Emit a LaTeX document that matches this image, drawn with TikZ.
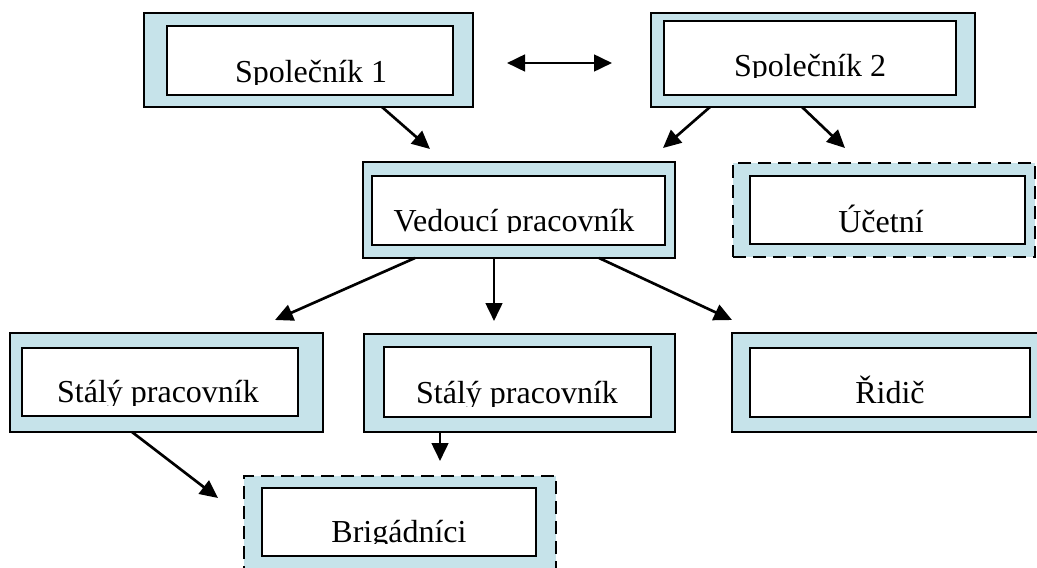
\documentclass[tikz,border=0pt]{standalone}
\usepackage{fontspec}
\setmainfont{Liberation Serif}
\usetikzlibrary{arrows.meta}
\definecolor{boxblue}{RGB}{198,227,234}
\tikzset{
 outerbox/.style={draw=black, fill=boxblue, line width=2.1pt, inner sep=0pt, outer sep=0pt, rectangle},
 dashbox/.style={outerbox, dash pattern=on 10pt off 5pt},
 innerbox/.style={draw=black, fill=white, line width=2pt, inner sep=0pt, outer sep=0pt, rectangle},
 lbl/.style={anchor=base, inner sep=0pt, font=\fontsize{24}{28}\selectfont},
 arr/.style={line width=2pt, -{Triangle[length=13.5pt,width=12.5pt]}},
 darr/.style={line width=2pt, {Triangle[length=13.5pt,width=12.5pt]}-{Triangle[length=13.5pt,width=12.5pt]}},
}
\newcommand\mybox[6]{\node[#1, minimum width={(#5-#3)*0.75pt}, minimum height={(#6-#4)*0.75pt}] (#2) at ({(#3+#5)/2},{(#4+#6)/2}) {};}
\newcommand\mylabel[5]{\begin{scope}\clip (0,0) rectangle (1037,#3); \node[lbl] (#5) at (#1,#2) {#4};\end{scope}}
\begin{document}
\begin{tikzpicture}[x=0.75pt,y=-0.75pt]
\useasboundingbox (0,0) rectangle (1037,567);
\clip (0,0) rectangle (1037,567);
% Spolecnik 1
\mybox{outerbox}{s1}{144}{13}{473}{107}
\mybox{innerbox}{s1i}{167}{26}{453}{95}
\mylabel{311}{82}{84}{Společník 1}{s1t}
% Spolecnik 2
\mybox{outerbox}{s2}{651}{13}{975}{107}
\mybox{innerbox}{s2i}{664}{21}{956}{95}
\mylabel{810}{76}{77.5}{Společník 2}{s2t}
% Vedouci
\mybox{outerbox}{v}{363}{162}{675}{258}
\mybox{innerbox}{vi}{372}{176}{665}{245}
\mylabel{514}{231}{232.5}{Vedoucí pracovník}{vt}
% Ucetni
\mybox{dashbox}{u}{733}{163}{1035}{257}
\mybox{innerbox}{ui}{750}{176}{1025}{244}
\mylabel{881}{232}{240}{Účetní}{ut}
% Staly 1
\mybox{outerbox}{st1}{10}{333}{323}{432}
\mybox{innerbox}{st1i}{22}{348}{298}{416}
\mylabel{158}{402}{405}{Stálý pracovník}{st1t}
% Staly 2
\mybox{outerbox}{st2}{364}{334}{675}{432}
\mybox{innerbox}{st2i}{384}{347}{651}{417}
\mylabel{517}{403}{406}{Stálý pracovník}{st2t}
% Ridic
\mybox{outerbox}{r}{732}{333}{1045}{432}
\mybox{innerbox}{ri}{750}{348}{1030}{417}
\mylabel{890}{403}{412}{Řidič}{rt}
% Brigadnici
\mybox{dashbox}{b}{244}{476}{556}{582}
\mybox{innerbox}{bi}{262}{488}{536}{556}
\mylabel{399}{542}{543.5}{Brigádníci}{bt}
% arrow coordinates
\coordinate (da1) at (507,63);
\coordinate (da2) at (612,63);
\coordinate (t1) at (430,149);
\coordinate (t2) at (663,148);
\coordinate (t3) at (845,148);
\coordinate (t4) at (275,320);
\coordinate (t5) at (494,321);
\coordinate (t6) at (732,320);
\coordinate (t7) at (218,498);
\coordinate (t8) at (440,461);
% connectors
\draw[darr] (da1) -- (da2);
\draw[arr] (s1.south -| 382,0) -- (t1);
\draw[arr] (s2.south -| 710,0) -- (t2);
\draw[arr] (s2.south -| 802,0) -- (t3);
\draw[arr] (v.south -| 415,0) -- (t4);
\draw[arr] (v.south -| 494,0) -- (t5);
\draw[arr] (v.south -| 599,0) -- (t6);
\draw[arr] (st1.south -| 132,0) -- (t7);
\draw[arr] (st2.south -| 440,0) -- (t8);
\end{tikzpicture}
\end{document}
